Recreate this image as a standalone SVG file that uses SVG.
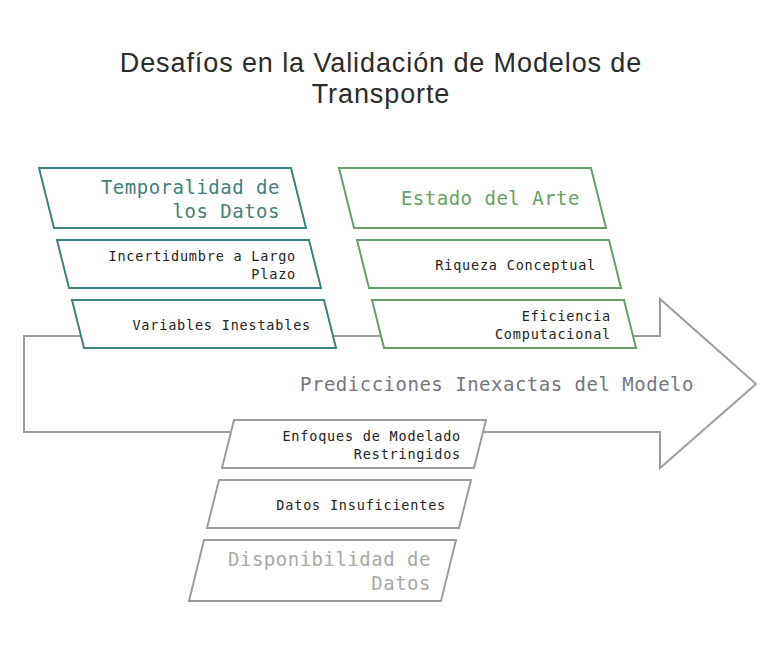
<svg xmlns="http://www.w3.org/2000/svg" width="780" height="649" viewBox="0 0 780 649">
<style>
.title{font-family:"Liberation Sans",Arial,sans-serif;font-size:27px;font-weight:normal;letter-spacing:0.9px;fill:#2b2b2b;text-anchor:middle}
.big{font-family:"DejaVu Sans Mono","Liberation Mono",monospace;font-size:19px;letter-spacing:0.5px;text-anchor:end}
.sm{font-family:"DejaVu Sans Mono","Liberation Mono",monospace;font-size:13.5px;letter-spacing:0.8px;text-anchor:end;fill:#222}
.teal{fill:#fff;stroke:#3f8080;stroke-width:2}
.green{fill:#fff;stroke:#66a066;stroke-width:2}
.gray{fill:#fff;stroke:#9c9c9c;stroke-width:2}
</style>
<rect width="780" height="649" fill="#fff"/>
<g id="title">
<text class="title" x="381" y="72">Desafíos en la Validación de Modelos de</text>
<text class="title" x="381" y="103">Transporte</text>
</g>
<g id="spine">
<polygon points="24,336 660,336 660,299 756,384 660,468 660,432 24,432" fill="#fff" stroke="#9c9c9c" stroke-width="2"/>
<text class="big" x="694" y="391" fill="#777480">Predicciones Inexactas del Modelo</text>
</g>
<g id="temporalidad">
<polygon class="teal" points="39,168 291,168 306,228 54,228"/>
<text class="big" x="280" y="194" fill="#3f8080">Temporalidad de</text>
<text class="big" x="280" y="218" fill="#3f8080">los Datos</text>
</g>
<g id="incertidumbre">
<polygon class="teal" points="57,240 309,240 321,288 69,288"/>
<text class="sm" x="296" y="261">Incertidumbre a Largo</text>
<text class="sm" x="296" y="279">Plazo</text>
</g>
<g id="variables">
<polygon class="teal" points="72,300 324,300 336,348 84,348"/>
<text class="sm" x="311" y="330">Variables Inestables</text>
</g>
<g id="estado">
<polygon class="green" points="339,168 591,168 606,228 354,228"/>
<text class="big" x="580" y="205" fill="#66a066">Estado del Arte</text>
</g>
<g id="riqueza">
<polygon class="green" points="357,240 609,240 621,288 369,288"/>
<text class="sm" x="596" y="270">Riqueza Conceptual</text>
</g>
<g id="eficiencia">
<polygon class="green" points="372,300 624,300 636,348 384,348"/>
<text class="sm" x="611" y="321">Eficiencia</text>
<text class="sm" x="611" y="339">Computacional</text>
</g>
<g id="enfoques">
<polygon class="gray" points="234,420 486,420 474,468 222,468"/>
<text class="sm" x="461" y="441">Enfoques de Modelado</text>
<text class="sm" x="461" y="459">Restringidos</text>
</g>
<g id="insuficientes">
<polygon class="gray" points="219,480 471,480 459,528 207,528"/>
<text class="sm" x="446" y="510">Datos Insuficientes</text>
</g>
<g id="disponibilidad">
<polygon class="gray" points="204,540 456,540 441,601 189,601"/>
<text class="big" x="431" y="566" fill="#a8a8a8">Disponibilidad de</text>
<text class="big" x="431" y="590" fill="#a8a8a8">Datos</text>
</g>
</svg>
